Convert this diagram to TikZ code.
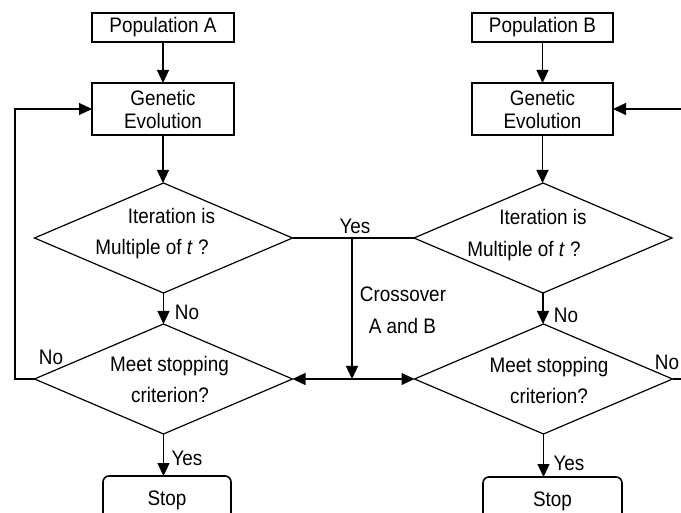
\documentclass[tikz,border=0pt]{standalone}
\usepackage{fontspec}
\setmainfont{Liberation Sans}[FakeStretch=0.9]
\usetikzlibrary{shapes.geometric,arrows.meta}
\begin{document}
\begin{tikzpicture}[x=1pt,y=-1pt,
  every node/.style={font=\fontsize{21}{23}\selectfont},
  box/.style={draw,line width=1.6pt,inner sep=0pt,outer sep=0pt,align=center},
  dia/.style={draw,diamond,line width=1.2pt,inner sep=0pt,outer sep=0pt,minimum width=258pt,minimum height=110pt},
  conn/.style={line width=1.2pt},
  tip/.tip={Triangle[length=13pt,width=12pt]},
  arr/.style={conn,-tip},
  lbl/.style={inner sep=0pt,text height=15pt,text depth=0pt}
]
\useasboundingbox (0,0) rectangle (681,513);
\fill[white] (0,0) rectangle (681,513);

% left column
\node[box,minimum width=142pt,minimum height=29pt] (popA) at (163,27.5) {Population A};
\node[box,minimum width=142pt,minimum height=52pt] (genA) at (163,109) {Genetic\\Evolution};
\node[dia] (itA) at (163.5,238) {};
\node[dia] (msA) at (163.5,379) {};
\node[box,rounded corners=6pt,minimum width=128pt,minimum height=48pt] (stopA) at (167,500) {Stop};

% right column
\node[box,minimum width=141pt,minimum height=29pt] (popB) at (542.5,27.5) {Population B};
\node[box,minimum width=141pt,minimum height=52pt] (genB) at (542.5,109) {Genetic\\Evolution};
\node[dia] (itB) at (543,238) {};
\node[dia] (msB) at (543.5,379) {};
\node[box,rounded corners=6pt,minimum width=139pt,minimum height=48pt] (stopB) at (552.5,501) {Stop};

% diamond texts
\node[lbl] (itAt1) at (171.5,216) {Iteration is};
\node[lbl] (itAt2) at (152,247) {Multiple of \textit{t} ?};
\node[lbl] (msAt1) at (169.5,364) {Meet stopping};
\node[lbl] (msAt2) at (170,395) {criterion?};
\node[lbl] (itBt1) at (543,217) {Iteration is};
\node[lbl] (itBt2) at (524,249) {Multiple of \textit{t} ?};
\node[lbl] (msBt1) at (549,365) {Meet stopping};
\node[lbl] (msBt2) at (549,396) {criterion?};

% vertical arrows
\draw[arr] (popA) -- (genA);
\draw[arr] (genA.south) -- (genA.south |- itA.north);
\draw[arr] (itA.south) -- (msA.north);
\draw[arr] (msA.south) -- (msA.south |- stopA.north);
\draw[arr] (popB) -- (genB);
\draw[arr] (genB.south) -- (genB.south |- itB.north);
\draw[arr] (itB.south) -- (itB.south |- msB.north);
\draw[arr] (msB.south) -- (msB.south |- stopB.north);

% feedback loops
\coordinate (fl1) at (15,379);
\coordinate (fl2) at (15,109);
\draw[arr] (msA.west) -- (fl1) -- (fl2) -- (genA.west);
\coordinate (fr1) at (700,379);
\coordinate (fr2) at (700,109);
\draw[arr] (msB.east) -- (fr1) -- (fr2) -- (genB.east);

% crossover
\draw[conn] (itA.east) -- (itB.west);
\coordinate (cx) at (352,238);
\draw[arr] (cx) -- (cx |- msA.east);
\draw[conn,tip-tip] (msA.east) -- (msB.west);

% labels
\node[lbl] (yesTop) at (355,226) {Yes};
\node[lbl] (cross1) at (403,294) {Crossover};
\node[lbl] (cross2) at (402.5,326) {A and B};
\node[lbl] (noA1) at (187,312) {No};
\node[lbl] (noA2) at (51,357) {No};
\node[lbl] (yesA) at (187,458) {Yes};
\node[lbl] (noB1) at (566,315) {No};
\node[lbl] (noB2) at (667,362) {No};
\node[lbl] (yesB) at (569,463) {Yes};
\end{tikzpicture}
\end{document}
